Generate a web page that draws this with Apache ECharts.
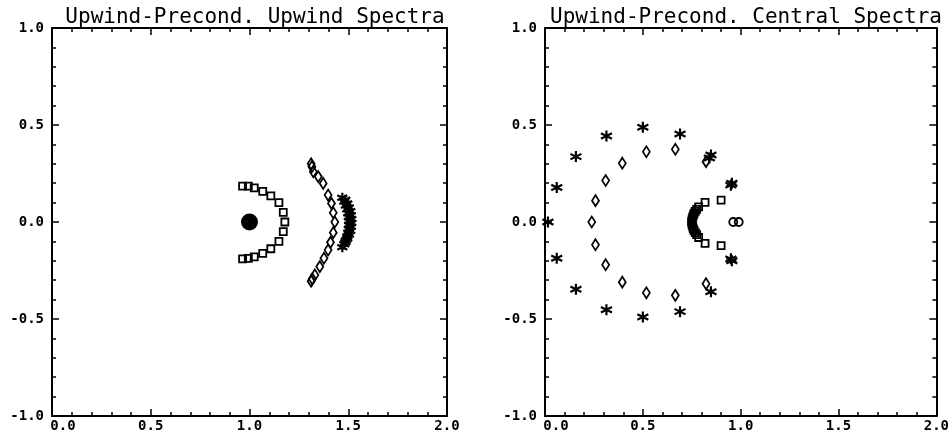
<!DOCTYPE html>
<html>
<head>
<meta charset="utf-8">
<script src="https://cdn.jsdelivr.net/npm/echarts@6/dist/echarts.min.js"></script>
<style>
  html, body { margin: 0; padding: 0; background: #fff; }
  #chart { width: 952px; height: 438px; }
</style>
</head>
<body>
<div id="chart"></div>
<script>
// axis tick values
var xTicks = [0.0, 0.5, 1.0, 1.5, 2.0];
var yTicks = [-1.0, -0.5, 0.0, 0.5, 1.0];

// left panel: Upwind-Precond. Upwind Spectra  [re, im]
var leftDot = [[1.0, 0.0]];
var leftSquares = [
  [0.965, 0.185], [0.994, 0.185], [1.024, 0.176], [1.067, 0.158], [1.108, 0.135],
  [1.149, 0.1], [1.171, 0.05], [1.179, 0.0], [1.171, -0.05], [1.149, -0.1],
  [1.108, -0.138], [1.067, -0.162], [1.024, -0.18], [0.994, -0.188], [0.965, -0.19]
];
var leftDiamonds = [
  [1.312, 0.3], [1.316, 0.285], [1.323, 0.259], [1.348, 0.234], [1.373, 0.199],
  [1.398, 0.139], [1.415, 0.096], [1.424, 0.048], [1.432, 0.0], [1.424, -0.055],
  [1.41, -0.105], [1.398, -0.144], [1.377, -0.187], [1.356, -0.23], [1.331, -0.273],
  [1.318, -0.293], [1.312, -0.305]
];
var leftStars = [
  [1.47, 0.125], [1.48, 0.105], [1.488, 0.085], [1.495, 0.065], [1.5, 0.045],
  [1.503, 0.025], [1.505, 0.005], [1.505, -0.015], [1.503, -0.035], [1.5, -0.055],
  [1.495, -0.075], [1.488, -0.095], [1.48, -0.115], [1.47, -0.13],
  [1.485, 0.115], [1.495, 0.095], [1.503, 0.075], [1.51, 0.055], [1.513, 0.035],
  [1.515, 0.015], [1.515, -0.005], [1.513, -0.025], [1.51, -0.045], [1.503, -0.065],
  [1.495, -0.085], [1.485, -0.105]
];

// right panel: Upwind-Precond. Central Spectra
var rightStars = [
  [0.5, 0.488], [0.69, 0.454], [0.314, 0.443], [0.158, 0.337], [0.848, 0.345],
  [0.84, 0.33], [0.06, 0.178], [0.95, 0.19], [0.955, 0.2], [0.015, 0.0],
  [0.06, -0.187], [0.95, -0.19], [0.955, -0.2], [0.158, -0.347], [0.848, -0.359],
  [0.314, -0.452], [0.5, -0.49], [0.69, -0.462]
];
var rightDiamonds = [
  [0.518, 0.362], [0.666, 0.375], [0.395, 0.303], [0.31, 0.214], [0.823, 0.311],
  [0.258, 0.11], [0.239, 0.0], [0.258, -0.117], [0.31, -0.22], [0.395, -0.31],
  [0.518, -0.365], [0.666, -0.378], [0.823, -0.318]
];
var rightSquares = [
  [0.818, 0.101], [0.9, 0.113], [0.785, 0.078], [0.775, 0.065], [0.768, 0.055],
  [0.762, 0.045], [0.758, 0.035], [0.755, 0.025], [0.752, 0.015], [0.75, 0.005],
  [0.75, -0.005], [0.752, -0.015], [0.755, -0.025], [0.758, -0.035], [0.762, -0.045],
  [0.768, -0.055], [0.775, -0.065], [0.785, -0.08], [0.818, -0.11], [0.9, -0.122]
];
var rightCircles = [[0.962, 0.0], [0.99, 0.0]];

var titles = ['Upwind-Precond. Upwind Spectra', 'Upwind-Precond. Central Spectra'];

var starPath = 'path://M5,0L5,10M0.7,2.5L9.3,7.5M0.7,7.5L9.3,2.5';
var labelFont = { color: '#000', fontSize: 14, fontWeight: 'bold', fontFamily: 'DejaVu Sans Mono' };

function xAxisFor(gi, pos) {
  return {
    gridIndex: gi, type: 'value', position: pos, min: 0, max: 2, interval: 0.5,
    axisLine: { show: true, onZero: false, lineStyle: { color: '#000', width: 2 } },
    axisTick: { show: true, inside: true, length: 7, lineStyle: { color: '#000', width: 1.5 } },
    minorTick: { show: true, splitNumber: 5, length: 4, lineStyle: { color: '#000', width: 1.5 } },
    splitLine: { show: false },
    axisLabel: pos === 'bottom' ? Object.assign({
      show: true, margin: 3,
      formatter: function (v) { return v === 0 ? '{z|0.0}' : v.toFixed(1); },
      rich: { z: { padding: [0, 0, 0, 22], fontSize: 14, fontWeight: 'bold', fontFamily: 'DejaVu Sans Mono' } }
    }, labelFont) : { show: false }
  };
}
function yAxisFor(gi, pos) {
  return {
    gridIndex: gi, type: 'value', position: pos, min: -1, max: 1, interval: 0.5,
    axisLine: { show: true, onZero: false, lineStyle: { color: '#000', width: 2 } },
    axisTick: { show: true, inside: true, length: 7, lineStyle: { color: '#000', width: 1.5 } },
    minorTick: { show: true, splitNumber: 5, length: 4, lineStyle: { color: '#000', width: 1.5 } },
    splitLine: { show: false },
    axisLabel: pos === 'left' ? Object.assign({
      show: true, margin: 8,
      formatter: function (v) { return v.toFixed(1); }
    }, labelFont) : { show: false }
  };
}

function pts(name, data, xi, yi, symbol, size, filled, bw) {
  return {
    name: name, type: 'scatter', xAxisIndex: xi, yAxisIndex: yi, data: data,
    symbol: symbol, symbolSize: size, silent: true,
    itemStyle: filled ? { color: '#000', opacity: 1 }
      : { color: 'rgba(0,0,0,0)', borderColor: '#000', borderWidth: bw || 1.8, opacity: 1 }
  };
}

var chart = echarts.init(document.getElementById('chart'));
chart.setOption({
  animation: false,
  backgroundColor: '#fff',
  title: [
    { text: titles[0], left: 250, textAlign: 'center', top: 2,
      textStyle: { fontFamily: 'DejaVu Sans Mono', fontSize: 21, fontWeight: 'normal', color: '#000' } },
    { text: titles[1], left: 741, textAlign: 'center', top: 2,
      textStyle: { fontFamily: 'DejaVu Sans Mono', fontSize: 21, fontWeight: 'normal', color: '#000' } }
  ],
  grid: [
    { left: 52, right: 505, top: 28, bottom: 22 },
    { left: 545, right: 14, top: 28, bottom: 22 }
  ],
  xAxis: [xAxisFor(0, 'bottom'), xAxisFor(0, 'top'), xAxisFor(1, 'bottom'), xAxisFor(1, 'top')],
  yAxis: [yAxisFor(0, 'left'), yAxisFor(0, 'right'), yAxisFor(1, 'left'), yAxisFor(1, 'right')],
  series: [
    pts('dot', leftDot, 0, 0, 'circle', 17, true),
    pts('squares', leftSquares, 0, 0, 'rect', 7, false),
    pts('diamonds', leftDiamonds, 0, 0, 'diamond', [7, 11], false),
    pts('stars', leftStars, 0, 0, starPath, 10, false, 2.2),
    pts('stars', rightStars, 2, 2, starPath, 11, false, 2.2),
    pts('diamonds', rightDiamonds, 2, 2, 'diamond', [7, 11], false),
    pts('squares', rightSquares, 2, 2, 'rect', 7, false),
    pts('circles', rightCircles, 2, 2, 'circle', 8, false)
  ]
});
</script>
</body>
</html>
